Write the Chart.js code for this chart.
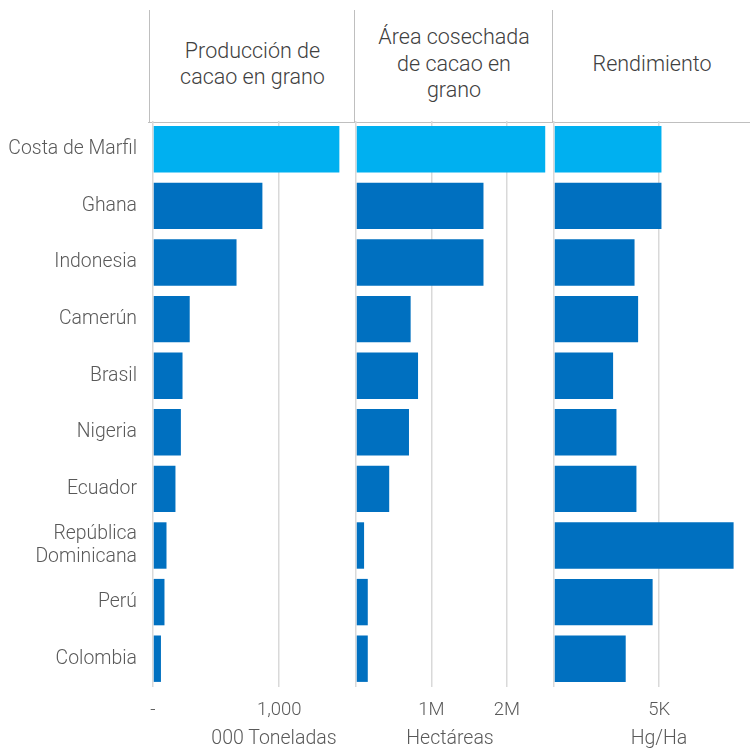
<!DOCTYPE html>
<html>
<head>
<meta charset="utf-8">
<script src="https://cdn.jsdelivr.net/npm/chart.js@4"></script>
<style>
  body { margin:0; background:#fff; font-family:Roboto, sans-serif; }
  #wrap { position:relative; width:750px; height:748px; overflow:hidden; }
  .panel { position:absolute; }
  .head { position:absolute; top:10px; height:108px; padding-bottom:5px; border-left:1.5px solid #bfbfbf;
          display:flex; align-items:center; justify-content:center; text-align:center;
          color:#404040; font-weight:300; font-size:21.5px; line-height:26.5px; }
  #headline { position:absolute; left:148px; top:122px; width:602px; height:0; border-top:1.5px solid #bfbfbf; }
  .axt { position:absolute; top:726px; width:200px; margin-left:-100px; text-align:center;
         color:#595959; font-weight:300; font-size:19.5px; line-height:24px; }
</style>
</head>
<body>
<div id="wrap">
  <div class="head" style="left:149px; width:205px;">Producción de<br>cacao en grano</div>
  <div class="head" style="left:354px; width:198px;">Área cosechada<br>de cacao en<br>grano</div>
  <div class="head" style="left:552px; width:198px;">Rendimiento</div>
  <div id="headline"></div>
  <div class="panel" style="left:0; top:121px; width:354px; height:627px;"><canvas id="c1"></canvas></div>
  <div class="panel" style="left:354px; top:121px; width:199px; height:627px;"><canvas id="c2"></canvas></div>
  <div class="panel" style="left:553px; top:121px; width:197px; height:627px;"><canvas id="c3"></canvas></div>
  <div class="axt" style="left:274px;">000 Toneladas</div>
  <div class="axt" style="left:450px;">Hectáreas</div>
  <div class="axt" style="left:659px;">Hg/Ha</div>
</div>
<script>
// datos
const countries = ['Costa de Marfil', 'Ghana', 'Indonesia', 'Camerún', 'Brasil', 'Nigeria', 'Ecuador', ['República', 'Dominicana'], 'Perú', 'Colombia'];
const produccion = [1477, 867, 662, 291, 234, 221, 178, 107, 91, 63];          // 000 toneladas
const area = [2507000, 1689000, 1689000, 724000, 822000, 702000, 440000, 107000, 156000, 156000]; // hectareas
const rendimiento = [5110, 5110, 3830, 4000, 2810, 2970, 3920, 8540, 4690, 3410]; // hg/ha
const ticksProd = [0, 1000];
const ticksArea = [0, 1000000, 2000000];
const ticksRend = [0, 5000];

const textColor = '#595959';
const gridColor = '#d9d9d9';
const barColors = countries.map((c, i) => i === 0 ? '#00B0F0' : '#0070C0');

Chart.defaults.font.family = 'Roboto, sans-serif';
Chart.defaults.font.weight = 300;
Chart.defaults.color = textColor;

function makeChart(id, values, max, tickVals, fmt, showY, padLeft) {
    return new Chart(document.getElementById(id), {
        type: 'bar',
        data: {
            labels: countries,
            datasets: [{ data: values, backgroundColor: barColors, borderWidth: 0,
                         categoryPercentage: 1, barPercentage: 0.82 }]
        },
        options: {
            indexAxis: 'y',
            responsive: true,
            maintainAspectRatio: false,
            animation: false,
            layout: { padding: { left: padLeft, right: 0, top: 0, bottom: 0 } },
            plugins: { legend: { display: false }, tooltip: { enabled: false } },
            scales: {
                x: {
                    min: 0, max: max,
                    afterBuildTicks: s => { s.ticks = tickVals.map(v => ({ value: v })); },
                    afterFit: s => { s.height = 61; s.paddingLeft = 0; s.paddingRight = 0; },
                    grid: { color: gridColor, lineWidth: 1.5, drawTicks: false },
                    border: { display: false },
                    ticks: { padding: 12, maxRotation: 0, font: { size: 18.5, weight: 300 }, callback: fmt }
                },
                y: {
                    display: showY,
                    afterFit: s => { if (showY) s.width = 153; s.paddingTop = 0; s.paddingBottom = 0; },
                    grid: { display: false },
                    border: { display: false },
                    ticks: { padding: 8, font: { size: 19.4, weight: 300 } }
                }
            }
        }
    });
}

makeChart('c1', produccion, 1593, ticksProd,
    v => v === 0 ? '-' : v.toLocaleString('en-US'), true, 0);
makeChart('c2', area, 2610000, ticksArea,
    v => v === 0 ? '' : (v / 1000000) + 'M', false, 2);
makeChart('c3', rendimiento, 9320, ticksRend,
    v => v === 0 ? '' : (v / 1000) + 'K', false, 1);
</script>
</body>
</html>
